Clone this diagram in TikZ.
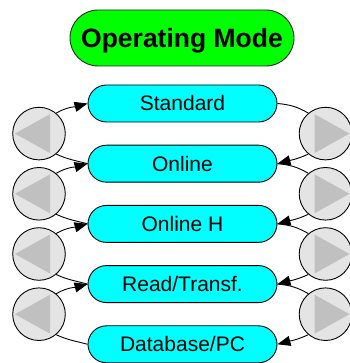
\documentclass[tikz,border=0pt]{standalone}
\usepackage{fontspec}
\setmainfont{Liberation Sans}
\usetikzlibrary{arrows.meta}
\definecolor{titlegreen}{RGB}{0,255,0}
\definecolor{boxcyan}{RGB}{0,255,255}
\definecolor{circfill}{RGB}{228,228,228}
\definecolor{trifill}{RGB}{192,192,192}
\begin{document}
\begin{tikzpicture}[x=1pt,y=1pt,
  titlebox/.style={draw=black!85, fill=titlegreen, rounded corners=28pt,
    minimum width=224pt, minimum height=56pt, inner sep=0pt,
    font=\fontsize{26.5}{30}\selectfont\bfseries, text height=19pt, text depth=0pt, line width=0.9pt},
  modebox/.style={draw=black, fill=boxcyan, rounded corners=18.5pt,
    minimum width=189pt, minimum height=37pt, inner sep=0pt,
    font=\fontsize{21}{24}\selectfont, text height=15pt, text depth=0pt, line width=0.9pt},
  navcirc/.style={circle, draw=black, fill=circfill, minimum size=52.6pt, inner sep=0pt, line width=0.9pt},
  tri/.style={fill=trifill},
  link/.style={line width=0.9pt},
  arr/.style={link, -{Triangle[length=13pt,width=10pt]}},
]
\useasboundingbox (0,0) rectangle (349,363);
\node[titlebox] (title) at (182,325) {Operating Mode};

\node[modebox] (b1) at (182.5,259.5) {Standard};
\node[modebox] (b2) at (182.5,199.3) {Online};
\node[modebox] (b3) at (182.5,139.1) {Online H};
\node[modebox] (b4) at (182.5,78.9) {Read/Transf.};
\node[modebox] (b5) at (182.5,18.7) {Database/PC};

\node[navcirc] (l1) at (39,229.4) {};
\node[navcirc] (l2) at (39,169.2) {};
\node[navcirc] (l3) at (39,109) {};
\node[navcirc] (l4) at (39,48.8) {};
\node[navcirc] (r1) at (325.5,229.4) {};
\node[navcirc] (r2) at (325.5,169.2) {};
\node[navcirc] (r3) at (325.5,109) {};
\node[navcirc] (r4) at (325.5,48.8) {};

\foreach \n in {l1,l2,l3,l4}
  \fill[tri] ([shift={(-24,0)}]\n.center) -- ([shift={(11,19.5)}]\n.center) -- ([shift={(11,-19.5)}]\n.center) -- cycle;
\foreach \n in {r1,r2,r3,r4}
  \fill[tri] ([shift={(24,0)}]\n.center) -- ([shift={(-11,19.5)}]\n.center) -- ([shift={(-11,-19.5)}]\n.center) -- cycle;

% left side: back navigation
\draw[arr] (l1.50) to[out=30,in=195] (b1.west);
\draw[link] (l1.-50) to[out=-25,in=165] (b2.west);
\draw[arr] (l2.50) to[out=30,in=195] (b2.west);
\draw[link] (l2.-50) to[out=-25,in=165] (b3.west);
\draw[arr] (l3.50) to[out=30,in=195] (b3.west);
\draw[link] (l3.-50) to[out=-25,in=165] (b4.west);
\draw[arr] (l4.50) to[out=30,in=195] (b4.west);
\draw[link] (l4.-50) to[out=-25,in=165] (b5.west);

% right side: forward navigation
\draw[link] (b1.east) to[out=-5,in=150] (r1.130);
\draw[arr] (r1.-130) to[out=205,in=15] (b2.east);
\draw[link] (b2.east) to[out=-5,in=150] (r2.130);
\draw[arr] (r2.-130) to[out=205,in=15] (b3.east);
\draw[link] (b3.east) to[out=-5,in=150] (r3.130);
\draw[arr] (r3.-130) to[out=205,in=15] (b4.east);
\draw[link] (b4.east) to[out=-5,in=150] (r4.130);
\draw[arr] (r4.-130) to[out=205,in=15] (b5.east);
\end{tikzpicture}
\end{document}
